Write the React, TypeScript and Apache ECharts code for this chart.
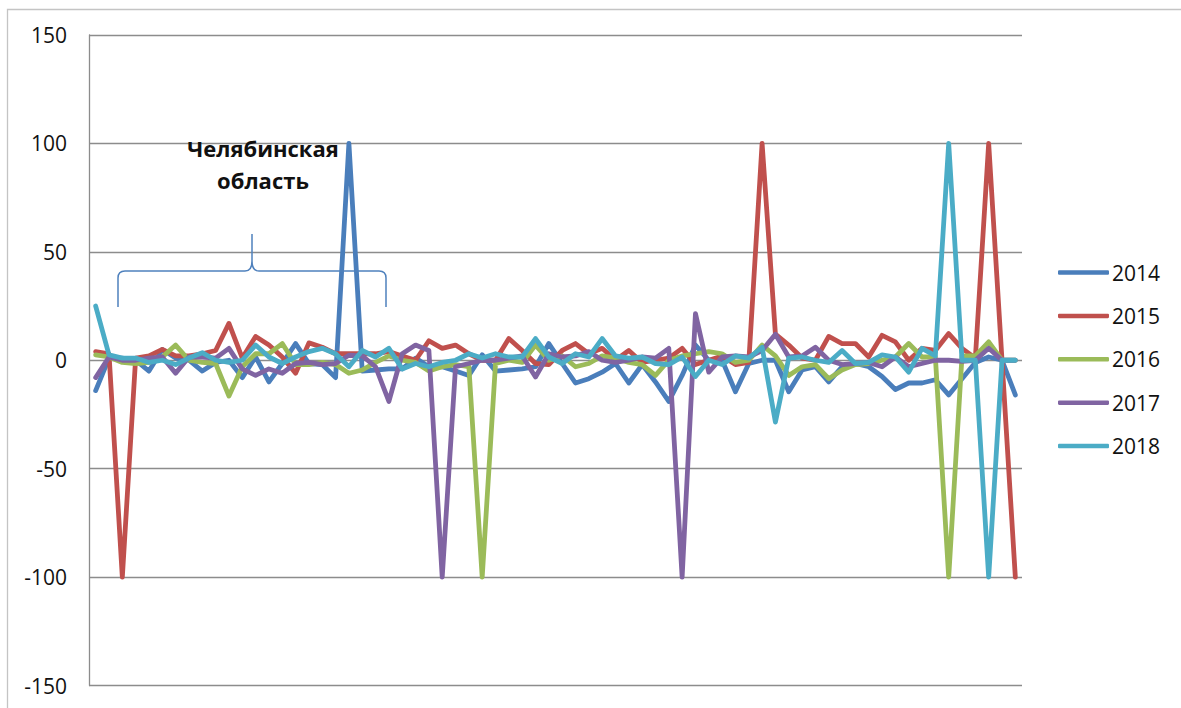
import React, { useEffect, useRef } from "react";
import * as echarts from "echarts";

const categories: string[] = Array.from({ length: 70 }, (_, i) => String(i + 1));

const y2014 = [
  -14, 1, 1, 0, -5, 5, 1, 0, -5, -1, 0, -8, 1.5, -10, -1.5, 7.7, -1.5, -2, -8, 100,
  -5, -4.5, -4, -4, 1, -3, -3, -5, -7, 2.5, -5, -4.5, -4, -3, 7.7, -1.5, -10.5, -8.5, -5.5, -1.5,
  -10.5, -2, -10, -19, -7, 7, 0, 0, -14.5, -1.5, 0, 0, -14.5, -4.5, -3, -10, -3, -1.5, -3, -7.5,
  -13.5, -10.5, -10.5, -9, -16, -8.5, -1, 1.5, 0, -16,
];
const y2015 = [
  4, 3, -100, 1, 2, 5, 2, 2, 3, 4.5, 17, 1, 11, 7, 1.5, -6, 8, 6, 3, 3,
  3, 3, 4, 2, 0, 9, 5.5, 7, 3, 0, 0, 10, 4.5, -1.5, -2, 4.5, 7.7, 3, 5.5, 0,
  4.5, -1, 0, 1, 5.5, -2, 0, 2, -2, -1, 100, 12, 7, 1, 0, 11, 7.7, 7.7, 1.5, 11.5,
  8.5, 0, 5.5, 4.5, 12.3, 5.5, 1, 100, 0, -100,
];
const y2016 = [
  2.5, 1.5, -1, -1.5, -1, 1.5, 7, 0, -1, -1.5, -16.5, -3, 3, 3, 7.7, -2, -2, -1, -2, -6,
  -4.5, -1, 2, 0, -1, -5, -3, -2, -3, -100, -1.5, 0, -1, 7, 0, 2, -3, -1.5, 2, 1,
  -1, -2, -7, 0, 2, 3, 4, 3, -1, 0, 7, 2, -7, -3, -2, -8.5, -4.5, -2, -1.5, 0,
  1.5, 7.7, 1.5, 1.5, -100, 2, 2, 8.5, 0, 0,
];
const y2017 = [
  -8, 1.5, 0, 0, 1, 1.5, -6, 1.5, 1.5, 1, 5.5, -4, -7, -4, -6, -1.5, -1, -2, -1.5, 2.3,
  2, -3, -19, 3, 7, 4.5, -100, -3, -1.5, 0, 0, 1, 2, -7.7, 3, 1.5, 2, 4, 0, -1,
  0, 1.5, 1, 5.5, -100, 21.5, -5.5, 1.5, 2, 1.5, 4.5, 12, 1.5, 2, 6, 0, -2, -1.5, -1, -3,
  1.5, -3, -1.5, 0, 0, -0.5, 0, 5.5, 0, 0,
];
const y2018 = [
  25, 2.5, 1, 1, -1, 0, -2, 1, 3.5, 0, -1, 0, 7, 1.5, -1.5, 1.5, 4, 5.5, 3, -3,
  4.5, 1.5, 5.5, -4, -1.5, -3, -1, 0, 3, 1, 3, 1.5, 1.5, 10, 1.5, -1.5, 3, 1.5, 10, 2,
  1, 1.5, -1.5, -2, 1.5, -7.5, 0, -2, 2, 1, 6, -28.5, 1, 1.5, 0, -1, 4.5, -1.5, -1, 2.5,
  1.5, -5.5, 5.5, 2, 100, 0, 0, -100, 0, 0,
];

const seriesNames = ["2014", "2015", "2016", "2017", "2018"];
const seriesData = [y2014, y2015, y2016, y2017, y2018];
const colors = ["#4A7EBB", "#C0504D", "#9BBB59", "#8064A2", "#4BACC6"];
const yTicks = { min: -150, max: 150, interval: 50 };
const annotation = "Челябинская\nобласть";

const FONT = "'Open Sans', 'Noto Sans', sans-serif";

export default function App() {
  const ref = useRef<HTMLDivElement>(null);
  useEffect(() => {
    if (!ref.current) return;
    echarts.graphic.registerShape(
      "brace",
      echarts.graphic.extendPath(
        "M118,307 L118,278 Q118,271 125,271 L245,271 Q252,271 252,261 L252,234 M252,261 Q252,271 259,271 L379,271 Q386,271 386,278 L386,307",
        {}
      )
    );
    const chart = echarts.init(ref.current, null, { renderer: "svg" });
    chart.setOption({
      animation: false,
      backgroundColor: "#ffffff",
      textStyle: { fontFamily: FONT },
      grid: { left: 89, right: 159, top: 35, bottom: 22.5, outerBoundsMode: "none", containLabel: false },
      xAxis: {
        type: "category",
        data: categories,
        boundaryGap: true,
        axisLine: { show: false },
        axisTick: { show: false },
        axisLabel: { show: false },
        splitLine: { show: false },
      },
      yAxis: {
        type: "value",
        min: yTicks.min,
        max: yTicks.max,
        interval: yTicks.interval,
        axisLine: { show: true, lineStyle: { color: "#8c8c8c", width: 1.3 } },
        axisTick: { show: false },
        axisLabel: { fontSize: 21, color: "#111", margin: 22, fontFamily: FONT },
        splitLine: { show: true, lineStyle: { color: "#8c8c8c", width: 1.3 } },
      },
      legend: {
        orient: "vertical",
        left: 1058,
        top: 262,
        padding: 0,
        icon: "roundRect",
        itemWidth: 51,
        itemHeight: 4.5,
        itemGap: 22.4,
        textStyle: { fontSize: 21, color: "#111", fontFamily: FONT, lineHeight: 21, padding: [0, 0, 0, -2] },
        data: seriesNames,
      },
      series: seriesNames.map((name, k) => ({
        name,
        type: "line",
        data: seriesData[k],
        symbol: "none",
        showSymbol: false,
        color: colors[k],
        itemStyle: { color: colors[k] },
        lineStyle: { width: 4.8, color: colors[k], cap: "round", join: "round" },
        z: 2 + k,
      })),
      graphic: [
        {
          type: "rect",
          silent: true,
          shape: { x: 7.5, y: 9.5, width: 1300, height: 900 },
          style: { fill: "none", stroke: "#c4c4c4", lineWidth: 1.3 },
          z: 0,
        },
        {
          type: "brace",
          x: 0,
          y: 0,
          silent: true,
          style: { fill: "none", stroke: "#4F81BD", lineWidth: 1.5 },
          z: 10,
        },
        {
          type: "text",
          x: 263,
          y: 132,
          silent: true,
          style: {
            text: annotation,
            fontSize: 22,
            fontWeight: "bold",
            fontFamily: FONT,
            fill: "#111",
            align: "center",
            verticalAlign: "top",
            lineHeight: 32,
          },
          z: 10,
        },
      ],
    });
    return () => chart.dispose();
  }, []);
  return (
    <div
      ref={ref}
      style={{ position: "fixed", left: 0, top: 0, width: 1181, height: 708, background: "#fff" }}
    />
  );
}
